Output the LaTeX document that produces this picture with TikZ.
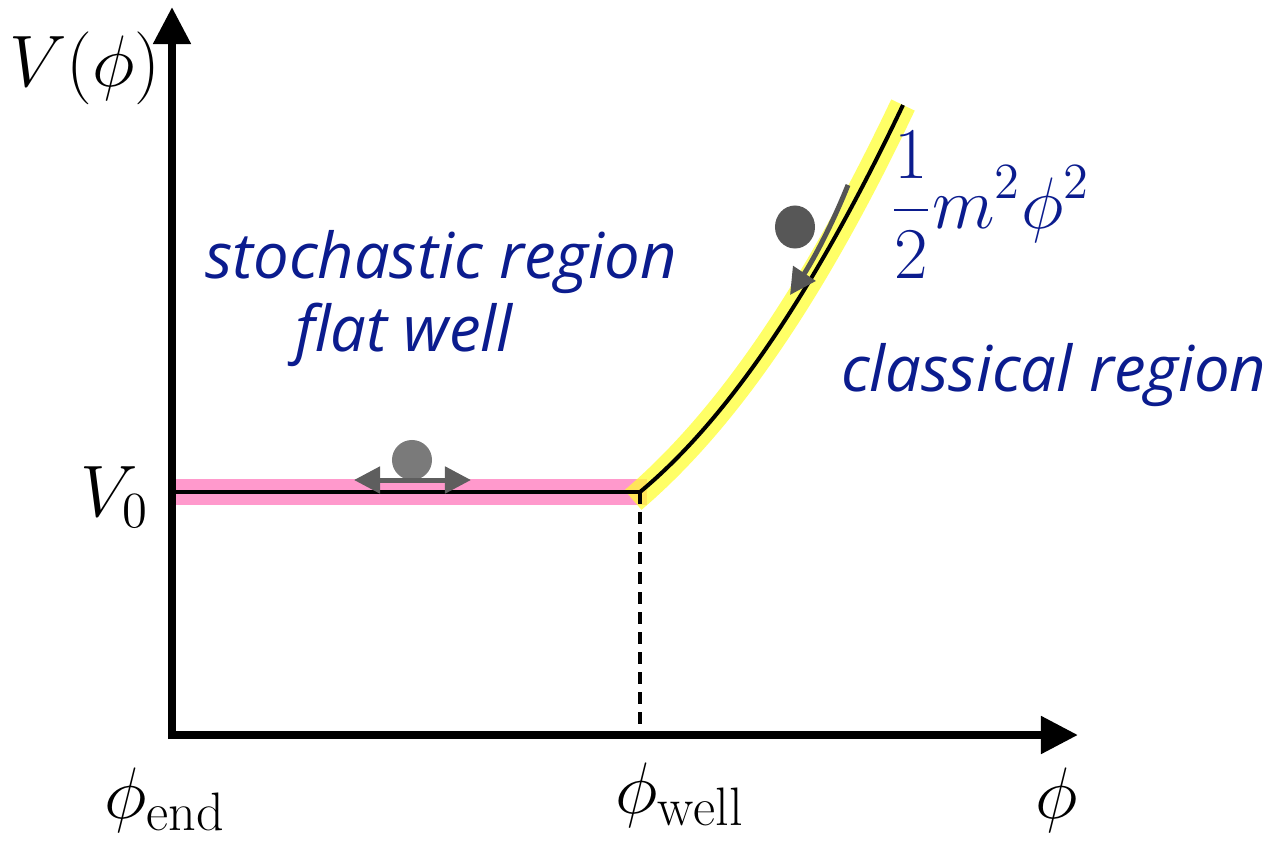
\documentclass[tikz,border=0pt]{standalone}
\usepackage{fontspec}
\newfontfamily\regionfont{Open Sans}
\usetikzlibrary{arrows.meta, shapes.geometric}
\definecolor{wellblue}{HTML}{0B1C8E}
\definecolor{wellpink}{HTML}{FF99CC}
\definecolor{wellyellow}{HTML}{FFFF33}
\definecolor{ballgray}{HTML}{7A7A7A}
\definecolor{balldark}{HTML}{575757}
\definecolor{arrowgray}{HTML}{5E5E5E}

\begin{document}
\begin{tikzpicture}[x=0.01cm, y=0.01cm,
    axis/.style={line width=0.08cm, -{Triangle[length=0.37cm, width=0.36cm]}},
    mathlbl/.style={font=\fontsize{22}{26}\selectfont, inner sep=0pt},
    regionlbl/.style={text=wellblue, font=\regionfont\itshape\fontsize{18}{22}\selectfont, inner sep=0pt},
    band/.style={line width=0.26cm},
    potline/.style={line width=0.04cm},
    movearrow/.style={line width=0.05cm, -{Triangle[length=0.26cm, width=0.26cm]}},
  ]
    \useasboundingbox (0,0) rectangle (1281,850);
    % axes
    \coordinate (O) at (172,115);
    \coordinate (ytip) at (172,843);
    \coordinate (xtip) at (1078,115);
    \draw[axis] (172,111) -- (ytip);
    \draw[axis] (168,115) -- (xtip);
    % potential
    \coordinate (left) at (176,358);
    \coordinate (well) at (640,358);
    \coordinate (wellfoot) at (640,115);
    \coordinate (top) at (903,745);
    \draw[band, wellpink] (left) -- (647,358);
    \draw[band, wellyellow, opacity=0.75] (633,350) .. controls (728,431) and (815,560) .. (top);
    \draw[potline] (left) -- (well);
    \draw[potline] (well) .. controls (728,431) and (815,560) .. (top);
    \draw[potline, dash pattern=on 0.12cm off 0.08cm] (well) -- (wellfoot);
    % balls
    \node[circle, fill=ballgray, minimum size=0.4cm, inner sep=0pt] (flatball) at (412,390) {};
    \coordinate (swingL) at (354,370);
    \coordinate (swingR) at (471,370);
    \draw[movearrow, arrowgray, {Triangle[length=0.26cm, width=0.26cm]}-{Triangle[length=0.26cm, width=0.26cm]}] (swingL) -- (swingR);
    \node[ellipse, fill=balldark, minimum width=0.4cm, minimum height=0.43cm, inner sep=0pt] (slopeball) at (795,623) {};
    \coordinate (rollA) at (848,665);
    \coordinate (rollB) at (790,555);
    \draw[movearrow, ballgray!70!black] (rollA) .. controls (830,620) and (810,585) .. (rollB);
    % labels
    \node[mathlbl] (vphi) at (85,782) {$V(\phi)$};
    \node[mathlbl] (vzero) at (115,353) {$V_0$};
    \node[mathlbl] (phiend) at (165,50) {$\phi_{\mathrm{end}}$};
    \node[mathlbl] (phiwell) at (680,55) {$\phi_{\mathrm{well}}$};
    \node[mathlbl] (phi) at (1057,50) {$\phi$};
    \node[mathlbl, text=wellblue] (mass) at (990,645) {$\displaystyle\frac{1}{2}m^2\phi^2$};
    \node[regionlbl] (stoch) at (441,588) {stochastic region};
    \node[regionlbl] (flat) at (404,515) {flat well};
    \node[regionlbl] (classic) at (1054,475) {classical region};
  \end{tikzpicture}
\end{document}
